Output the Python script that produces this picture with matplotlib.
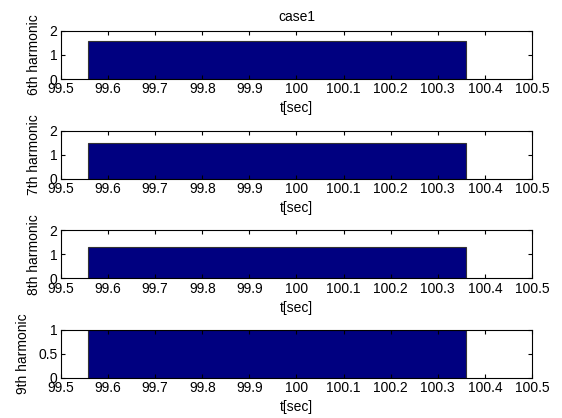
import matplotlib
matplotlib.use("Agg")
import matplotlib.pyplot as plt

plt.rcParams['font.family'] = ['Liberation Sans', 'DejaVu Sans']

labels = ["6th harmonic", "7th harmonic", "8th harmonic", "9th harmonic"]
heights = [1.6, 1.48, 1.30, 1.0]
ylims = [2, 2, 2, 1]
yticks = [[0, 1, 2], [0, 1, 2], [0, 1, 2], [0, 0.5, 1]]
bar_start = 99.558
bar_end = 100.359
xticks = [99.5, 99.6, 99.7, 99.8, 99.9, 100, 100.1, 100.2, 100.3, 100.4, 100.5]
xticklabels = ["99.5", "99.6", "99.7", "99.8", "99.9", "100", "100.1", "100.2", "100.3", "100.4", "100.5"]

fig = plt.figure(figsize=(5.62, 4.18), dpi=100)
bottoms = [0.811, 0.5718, 0.3342, 0.0957]
fs = 10
for i in range(4):
    ax = fig.add_axes([0.1085, bottoms[i], 0.838, 0.115])
    ax.bar([bar_start], [heights[i]], width=bar_end - bar_start, align='edge',
           color='#000080', edgecolor='#333333', linewidth=0.8)
    ax.set_xlim(99.5, 100.5)
    ax.set_ylim(0, ylims[i])
    ax.set_xticks(xticks)
    ax.set_xticklabels(xticklabels)
    ax.set_yticks(yticks[i])
    ax.set_yticklabels([f"{v:g}" for v in yticks[i]])
    ax.tick_params(direction='in', length=3, width=0.8, top=True, right=True,
                   labelsize=fs, pad=2.5)
    for s in ax.spines.values():
        s.set_linewidth(0.8)
    ax.set_xlabel("t[sec]", fontsize=fs, labelpad=3.5)
    ax.set_ylabel(labels[i], fontsize=fs, labelpad=6)
    if i == 0:
        ax.set_title("case1", fontsize=fs, pad=7)

fig.savefig("out.png", dpi=100)
